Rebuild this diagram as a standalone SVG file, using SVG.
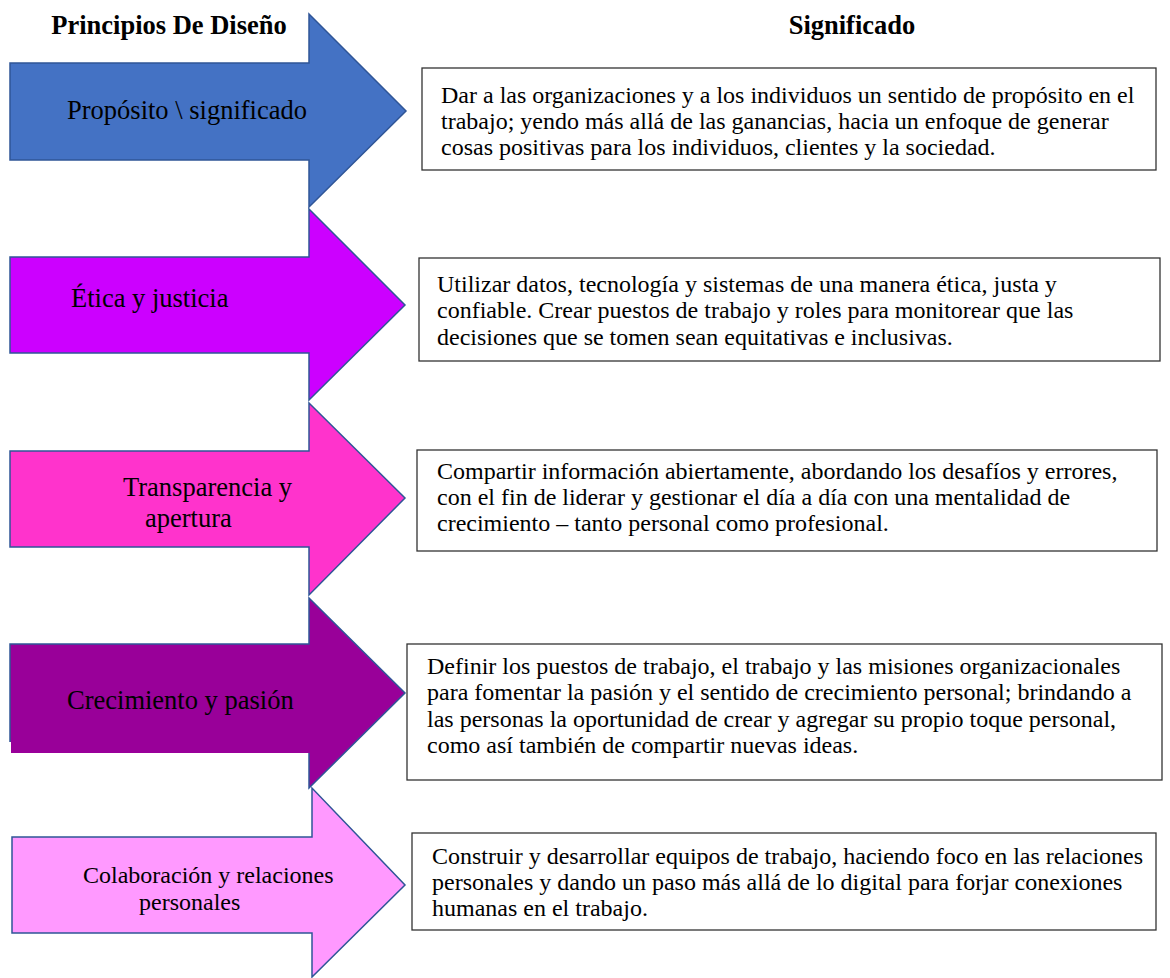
<svg xmlns="http://www.w3.org/2000/svg" width="1170" height="978" viewBox="0 0 1170 978">
<style>
.hdr{font-family:"Liberation Serif","Times New Roman",serif;font-weight:bold;font-size:26.5px;fill:#000;text-anchor:middle}
.lbl{font-family:"Liberation Serif","Times New Roman",serif;font-size:26.5px;fill:#000}
.lbl2{font-family:"Liberation Serif","Times New Roman",serif;font-size:24px;fill:#000}
.txt{font-family:"Liberation Serif","Times New Roman",serif;font-size:24px;fill:#000}
.arr{stroke:#2F5597;stroke-width:1.5;stroke-linejoin:miter}
.box{fill:#fff;stroke:#333;stroke-width:1.3}
</style>
<rect width="1170" height="978" fill="#fff"/>
<text class="hdr" x="169" y="34">Principios De Diseño</text>
<text class="hdr" x="852" y="34">Significado</text>

<g id="connectors"></g>

<g id="arrow1">
<polygon class="arr" fill="#4472C4" points="10,63 309,63 309,14 406,111 309,207 309,160 10,160"/>
<text class="lbl" x="67" y="119">Propósito \ significado</text>
</g>
<g id="arrow2">
<polygon class="arr" fill="#CC00FF" points="10,257 309,257 309,209 405,305 309,400 309,353 10,353"/>
<text class="lbl" x="71" y="307">Ética y justicia</text>
</g>
<g id="arrow3">
<polygon class="arr" fill="#FF33CC" points="10,451 309,451 309,403 405,498 309,595 309,547 10,547"/>
<text class="lbl" x="123" y="496">Transparencia y</text>
<text class="lbl" x="145" y="527">apertura</text>
</g>
<g id="arrow4">
<polygon fill="#990099" points="10,644 309,644 309,598 405,693 309,788 309,753 11,753 11,742 10,742"/>
<path class="arr" fill="none" d="M10,742 L10,644 L309,644 L309,598 L405,693 L309,788 L309,753"/>
<text class="lbl" x="67" y="709">Crecimiento y pasión</text>
</g>
<g id="arrow5">
<polygon class="arr" fill="#FF99FF" points="12,837 312,837 312,788 405,885 312,977 312,933 12,933"/>
<text class="lbl2" x="83" y="883">Colaboración y relaciones</text>
<text class="lbl2" x="139" y="910">personales</text>
</g>

<g id="box1">
<rect class="box" x="422" y="68" width="734" height="102"/>
<text class="txt" x="441" y="103">Dar a las organizaciones y a los individuos un sentido de propósito en el</text>
<text class="txt" x="441" y="129">trabajo; yendo más allá de las ganancias, hacia un enfoque de generar</text>
<text class="txt" x="441" y="155">cosas positivas para los individuos, clientes y la sociedad.</text>
</g>
<g id="box2">
<rect class="box" x="419" y="258" width="741" height="103"/>
<text class="txt" x="437" y="292">Utilizar datos, tecnología y sistemas de una manera ética, justa y</text>
<text class="txt" x="437" y="318">confiable. Crear puestos de trabajo y roles para monitorear que las</text>
<text class="txt" x="437" y="345">decisiones que se tomen sean equitativas e inclusivas.</text>
</g>
<g id="box3">
<rect class="box" x="417" y="450" width="740" height="101"/>
<text class="txt" x="437" y="479">Compartir información abiertamente, abordando los desafíos y errores,</text>
<text class="txt" x="437" y="505">con el fin de liderar y gestionar el día a día con una mentalidad de</text>
<text class="txt" x="437" y="531">crecimiento – tanto personal como profesional.</text>
</g>
<g id="box4">
<rect class="box" x="407" y="644" width="755" height="136"/>
<text class="txt" x="427" y="674">Definir los puestos de trabajo, el trabajo y las misiones organizacionales</text>
<text class="txt" x="427" y="700">para fomentar la pasión y el sentido de crecimiento personal; brindando a</text>
<text class="txt" x="427" y="727">las personas la oportunidad de crear y agregar su propio toque personal,</text>
<text class="txt" x="427" y="753">como así también de compartir nuevas ideas.</text>
</g>
<g id="box5">
<rect class="box" x="412" y="833" width="744" height="97"/>
<text class="txt" x="432" y="864">Construir y desarrollar equipos de trabajo, haciendo foco en las relaciones</text>
<text class="txt" x="432" y="890">personales y dando un paso más allá de lo digital para forjar conexiones</text>
<text class="txt" x="432" y="916">humanas en el trabajo.</text>
</g>
</svg>
